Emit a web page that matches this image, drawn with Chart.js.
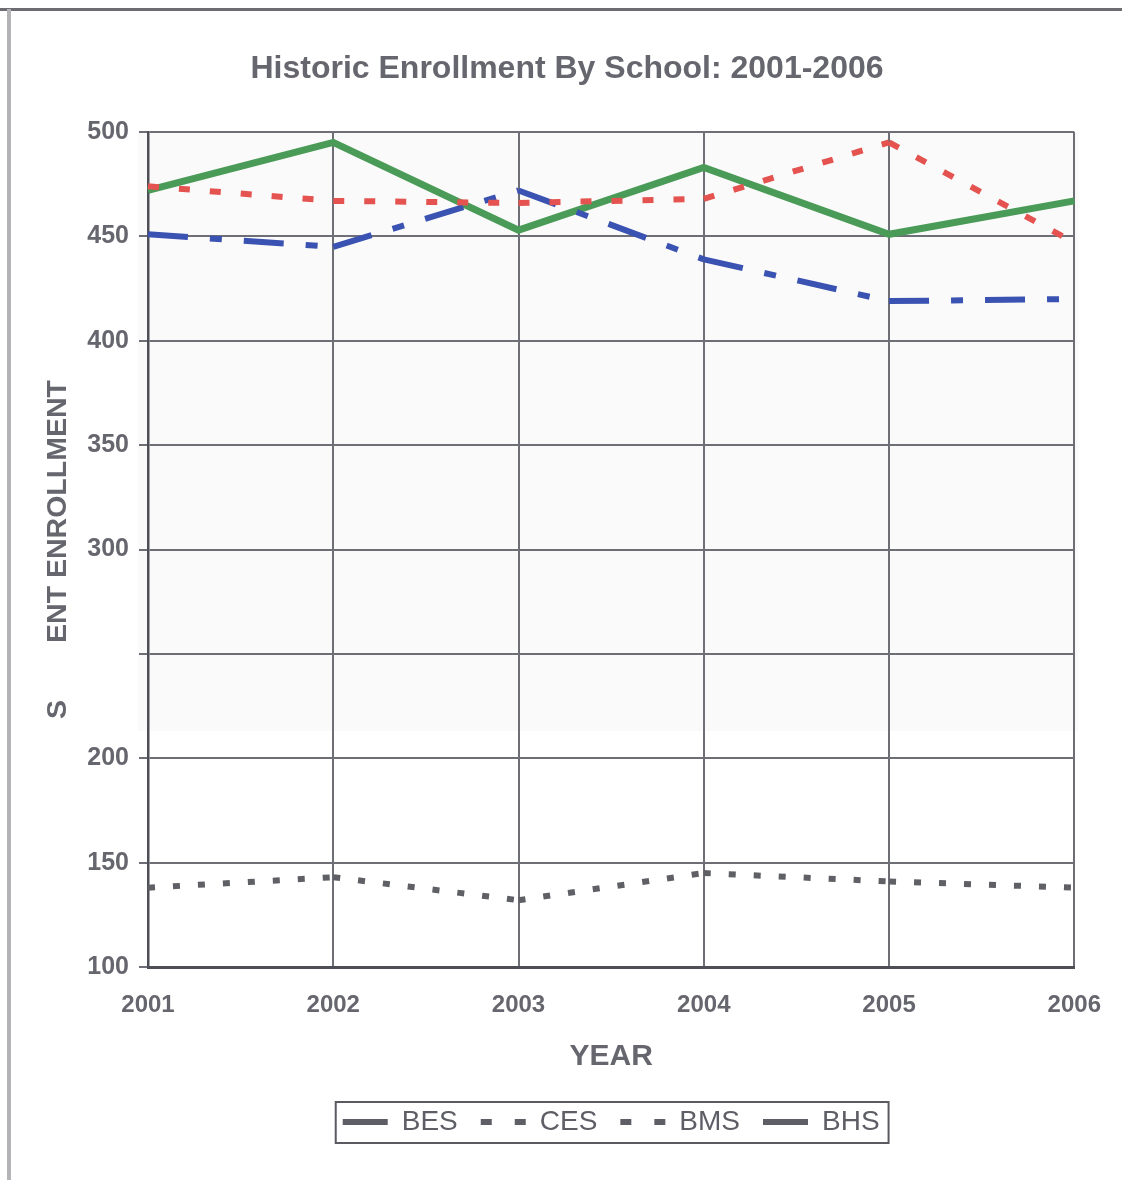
<!DOCTYPE html>
<html>
<head>
<meta charset="utf-8">
<title>Historic Enrollment By School: 2001-2006</title>
<script src="https://cdn.jsdelivr.net/npm/chart.js@4/dist/chart.umd.min.js"></script>
<style>
  html, body { margin: 0; padding: 0; background: #ffffff; }
  #wrap { width: 1122px; height: 1180px; position: relative; }
  canvas { display: block; }
</style>
</head>
<body>
<div id="wrap"><canvas id="chart" width="1122" height="1180"></canvas></div>
<script>
// Enrollment per school, 2001-2006
const years = ['2001', '2002', '2003', '2004', '2005', '2006'];
const besValues = [138, 143, 132, 145, 141, 138];
const cesValues = [474, 467, 466, 468, 495, 447];
const bmsValues = [451, 445, 472, 439, 419, 420];
const bhsValues = [472, 495, 453, 483, 451, 467];
const schoolNames = ['BES', 'CES', 'BMS', 'BHS'];
const yTicksHidden = [250];

const FONT = "'Liberation Sans', Arial, Helvetica, sans-serif";
const TEXT_GRAY = '#66666e';
const GRID_GRAY = '#6e6e76';
const AXIS_GRAY = '#4e4e56';
const LEGEND_GRAY = '#5e5e66';

// restart the dash pattern at every data point, one stroke per segment
const perSegmentDash = {
  borderDashOffset: ctx => (ctx.p0DataIndex % 2) * 0.01
};

// line style shown for each school in the legend
const legendDash = {
  BES: [],
  CES: [11, 23],
  BMS: [11, 23],
  BHS: []
};

const pageDecor = {
  id: 'pageDecor',
  beforeDraw(chart) {
    const { ctx, chartArea, scales } = chart;
    ctx.save();
    ctx.fillStyle = '#ffffff';
    ctx.fillRect(0, 0, chart.width, chart.height);
    // faint shading across the upper part of the plot
    const yEdge = scales.y.getPixelForValue(213);
    ctx.fillStyle = '#fafafa';
    ctx.fillRect(chartArea.left - 10, chartArea.top, chartArea.right - chartArea.left + 14, yEdge - chartArea.top);
    // page frame
    ctx.strokeStyle = '#6c6c72';
    ctx.lineWidth = 3;
    ctx.beginPath();
    ctx.moveTo(0, 9.5);
    ctx.lineTo(chart.width, 9.5);
    ctx.stroke();
    ctx.strokeStyle = '#b4b4b8';
    ctx.lineWidth = 4;
    ctx.beginPath();
    ctx.moveTo(9, 9);
    ctx.lineTo(9, chart.height);
    ctx.stroke();
    ctx.restore();
  },
  afterDraw(chart) {
    const hb = chart.legend && chart.legend.legendHitBoxes;
    if (!hb || !hb.length) return;
    const { ctx } = chart;
    const first = hb[0];
    const last = hb[hb.length - 1];
    const left = first.left - 7;
    const right = last.left + last.width + 9;
    const cy = first.top + first.height / 2;
    ctx.save();
    ctx.strokeStyle = '#5a5a62';
    ctx.lineWidth = 2;
    ctx.strokeRect(left, cy - 20, right - left, 41);
    ctx.restore();
  }
};

new Chart(document.getElementById('chart'), {
  type: 'line',
  data: {
    labels: years,
    datasets: [
      {
        label: schoolNames[0],
        data: besValues,
        borderColor: '#5f5f66',
        borderWidth: 6,
        borderDash: [7, 18],
        borderCapStyle: 'butt',
        segment: perSegmentDash
      },
      {
        label: schoolNames[1],
        data: cesValues,
        borderColor: '#e4534f',
        borderWidth: 6,
        borderDash: [11, 20],
        borderCapStyle: 'butt',
        segment: perSegmentDash
      },
      {
        label: schoolNames[2],
        data: bmsValues,
        borderColor: '#3a52b2',
        borderWidth: 6,
        borderDash: [40, 22, 12, 22],
        borderCapStyle: 'butt',
        segment: perSegmentDash
      },
      {
        label: schoolNames[3],
        data: bhsValues,
        borderColor: '#4a9b57',
        borderWidth: 7,
        borderJoinStyle: 'miter'
      }
    ]
  },
  options: {
    responsive: false,
    animation: false,
    devicePixelRatio: 1,
    elements: {
      point: { radius: 0, hoverRadius: 0 },
      line: { tension: 0, fill: false }
    },
    layout: { padding: { left: 12, right: 0, top: 0, bottom: 34 } },
    plugins: {
      tooltip: { enabled: false },
      title: {
        display: true,
        text: 'Historic Enrollment By School: 2001-2006',
        color: TEXT_GRAY,
        font: { family: FONT, size: 32, weight: 'bold' },
        padding: { top: 50, bottom: 43.6 }
      },
      legend: {
        display: true,
        position: 'bottom',
        fullSize: false,
        labels: {
          usePointStyle: true,
          boxWidth: 45,
          pointStyleWidth: 45,
          padding: 23,
          color: LEGEND_GRAY,
          font: { family: FONT, size: 28 },
          generateLabels(chart) {
            return chart.data.datasets.map((ds, i) => ({
              text: ds.label,
              datasetIndex: i,
              fillStyle: LEGEND_GRAY,
              strokeStyle: LEGEND_GRAY,
              fontColor: LEGEND_GRAY,
              lineWidth: 6,
              lineCap: 'butt',
              lineDash: legendDash[ds.label] || [],
              pointStyle: 'line',
              hidden: false
            }));
          }
        }
      }
    },
    scales: {
      x: {
        type: 'category',
        offset: false,
        grid: { color: GRID_GRAY, lineWidth: 2, drawTicks: false },
        border: { color: AXIS_GRAY, width: 3 },
        ticks: {
          color: TEXT_GRAY,
          font: { family: FONT, size: 24, weight: 'bold', lineHeight: 1.45 },
          padding: 21,
          maxRotation: 0,
          autoSkip: false
        },
        title: {
          display: true,
          text: 'YEAR',
          color: TEXT_GRAY,
          font: { family: FONT, size: 30, weight: 'bold' },
          padding: { top: 0, bottom: 10 }
        },
        afterFit(scale) { scale.height = 118; }
      },
      y: {
        min: 100,
        max: 500,
        grid: { color: GRID_GRAY, lineWidth: 2, tickLength: 9 },
        border: { color: AXIS_GRAY, width: 2.5 },
        ticks: {
          stepSize: 50,
          color: TEXT_GRAY,
          font: { family: FONT, size: 25, weight: 'bold' },
          padding: 10,
          callback: v => (yTicksHidden.includes(v) ? '' : v)
        },
        title: {
          display: true,
          text: 'S\u2003\u2003ENT ENROLLMENT',
          color: TEXT_GRAY,
          font: { family: FONT, size: 28.5, weight: 'bold' },
          padding: { top: 29, bottom: 0 }
        },
        afterFit(scale) { scale.width = 136; }
      },
      yRight: {
        position: 'right',
        display: true,
        grid: { display: false, drawTicks: false },
        border: { display: false },
        ticks: { display: false },
        afterFit(scale) { scale.width = 47; }
      }
    }
  },
  plugins: [pageDecor]
});
</script>
</body>
</html>
